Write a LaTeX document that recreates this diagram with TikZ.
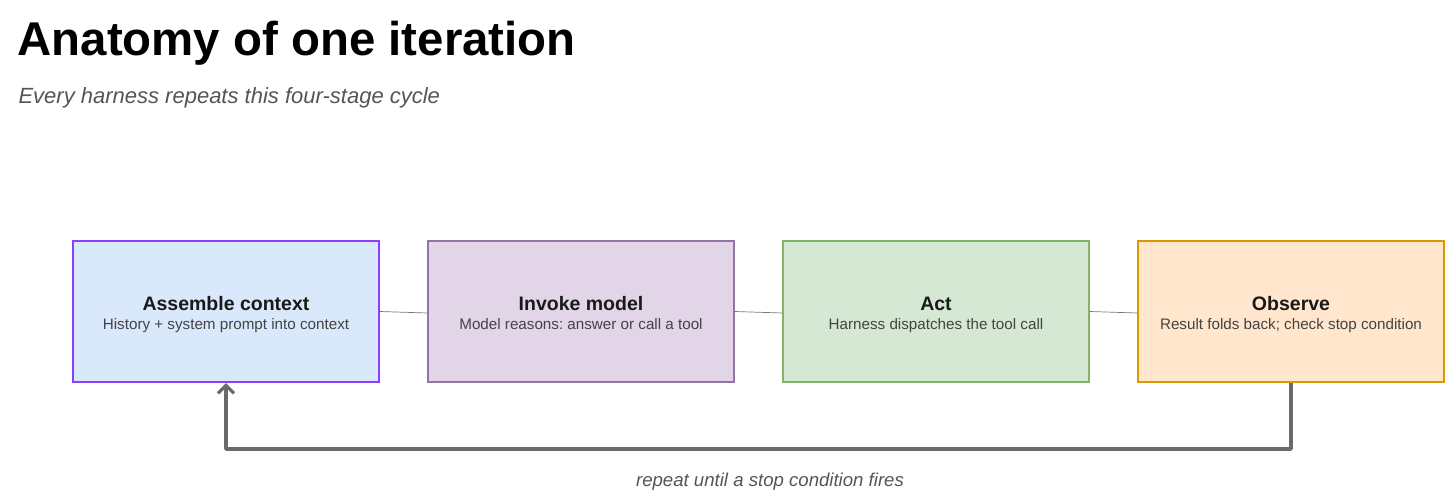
\documentclass[tikz,border=0pt]{standalone}
\usepackage{fontspec}
\setmainfont{Liberation Sans}
\usetikzlibrary{arrows.meta}
\frenchspacing
\definecolor{fillA}{HTML}{DAE8FC}
\definecolor{drawA}{HTML}{8A3FFC}
\definecolor{fillB}{HTML}{E1D5E7}
\definecolor{drawB}{HTML}{9673A6}
\definecolor{fillC}{HTML}{D5E8D4}
\definecolor{drawC}{HTML}{82B366}
\definecolor{fillD}{HTML}{FFE6CC}
\definecolor{drawD}{HTML}{D79B00}
\definecolor{subgrey}{HTML}{555555}
\definecolor{bodygrey}{HTML}{444444}
\definecolor{linkgrey}{HTML}{777777}
\definecolor{loopgrey}{HTML}{6A6A6A}
\begin{document}
\begin{tikzpicture}[x=1pt,y=-1pt,
  stage/.style={draw, line width=1.2pt, minimum width=306pt, minimum height=141pt, inner sep=0pt, align=center},
  stagetitle/.style={font=\fontsize{19.5}{22}\selectfont\bfseries\frenchspacing, text=black!90},
  stagetext/.style={font=\fontsize{15.2}{17}\selectfont\frenchspacing, text=bodygrey},
  link/.style={draw=linkgrey, line width=0.7pt},
  loop/.style={draw=loopgrey, line width=3.4pt, line join=round, -{Straight Barb[length=8pt,width=16pt,line width=3.2pt]}}
]
\useasboundingbox (0,0) rectangle (1456,503);
\node[anchor=base west, font=\fontsize{47.4}{54}\selectfont\bfseries] (title) at (14,56) {Anatomy of one iteration};
\node[anchor=base west, font=\fontsize{22}{24}\selectfont\itshape, text=subgrey] (subtitle) at (15,103) {Every harness repeats this four-stage cycle};

\node[stage, fill=fillA, draw=drawA, line width=2pt] (a) at (226,311.5) {};
\node[stage, fill=fillB, draw=drawB] (b) at (581,311.5) {};
\node[stage, fill=fillC, draw=drawC] (c) at (936,311.5) {};
\node[stage, fill=fillD, draw=drawD] (d) at (1291,311.5) {};

\foreach \n/\t/\s in {a/Assemble context/History + system prompt into context,
                      b/Invoke model/Model reasons: answer or call a tool,
                      c/Act/Harness dispatches the tool call,
                      d/Observe/Result folds back; check stop condition}{
  \node[anchor=base, stagetitle] (\n t) at ([yshift=1.5pt]\n.center) {\t};
  \node[anchor=base, stagetext] (\n s) at ([yshift=-17.5pt]\n.center) {\s};
}

\draw[link] (a.east) -- ([yshift=-1.5pt]b.west);
\draw[link] (b.east) -- ([yshift=-1.5pt]c.west);
\draw[link] (c.east) -- ([yshift=-1.5pt]d.west);

\coordinate (dr) at (1291,449);
\coordinate (al) at (226,449);
\draw[loop] (d.south) -- (dr) -- (al) -- (a.south);
\node[anchor=base, font=\fontsize{18.6}{20}\selectfont\itshape, text=subgrey] (looplabel) at (770,486) {repeat until a stop condition fires};
\end{tikzpicture}
\end{document}
